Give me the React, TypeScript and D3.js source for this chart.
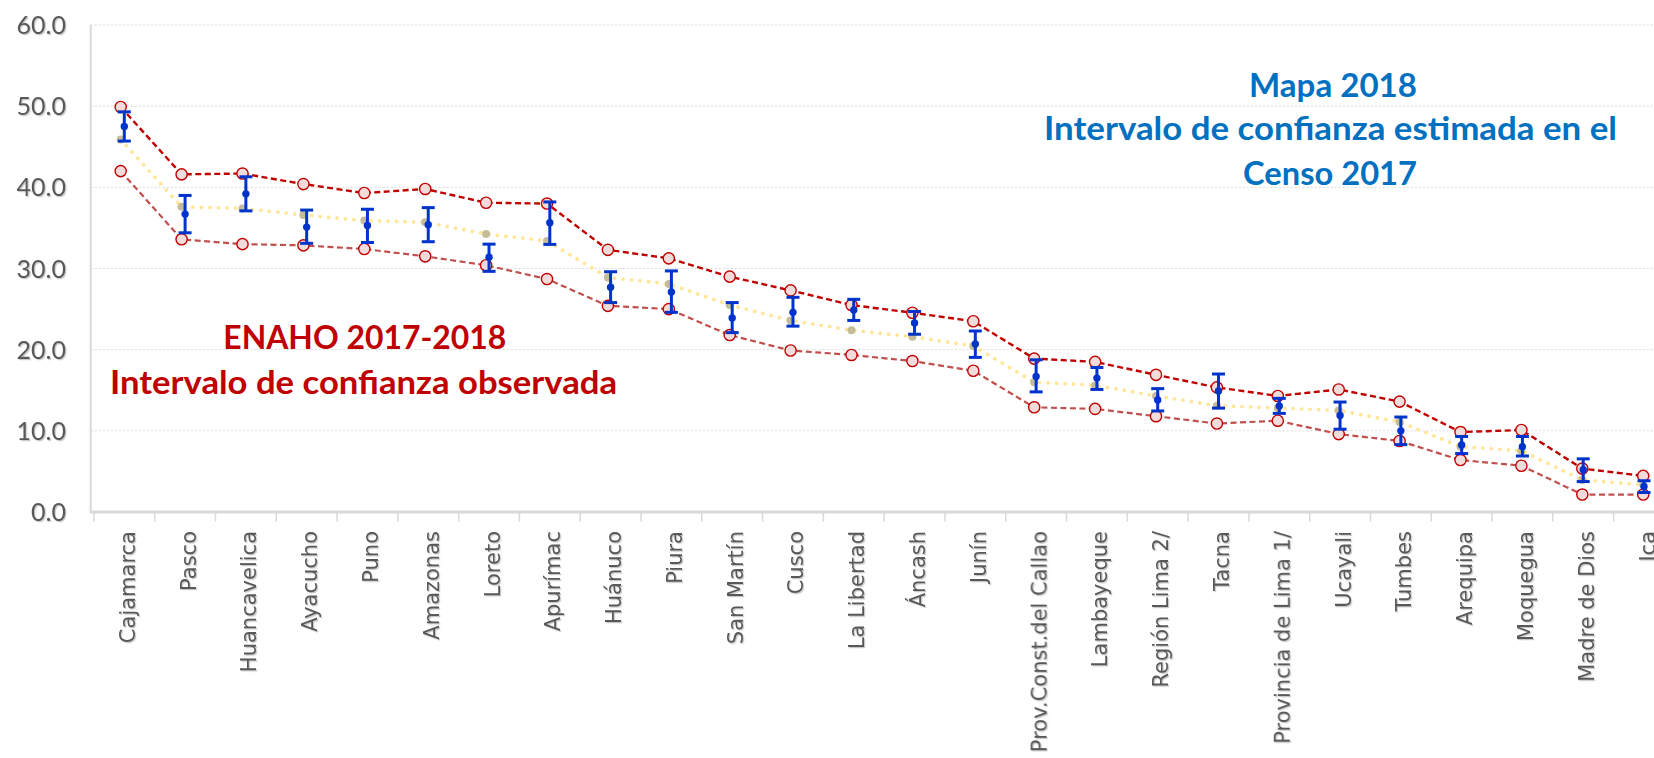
import React from 'react';
import * as d3 from 'd3';

const categories = [
  'Cajamarca', 'Pasco', 'Huancavelica', 'Ayacucho', 'Puno', 'Amazonas', 'Loreto', 'Apurímac',
  'Huánuco', 'Piura', 'San Martín', 'Cusco', 'La Libertad', 'Áncash', 'Junín',
  'Prov.Const.del Callao', 'Lambayeque', 'Región Lima 2/', 'Tacna', 'Provincia de Lima 1/',
  'Ucayali', 'Tumbes', 'Arequipa', 'Moquegua', 'Madre de Dios', 'Ica',
];

// ENAHO 2017-2018 observed confidence interval
const enahoUpper = [49.9, 41.6, 41.7, 40.4, 39.3, 39.8, 38.1, 38.0, 32.3, 31.25, 29.0, 27.3, 25.5, 24.55, 23.5, 18.9, 18.5, 16.9, 15.35, 14.3, 15.1, 13.6, 9.85, 10.1, 5.35, 4.45];
const enahoLower = [42.0, 33.6, 33.0, 32.85, 32.4, 31.5, 30.4, 28.7, 25.4, 25.0, 21.8, 19.9, 19.35, 18.6, 17.4, 12.9, 12.7, 11.8, 10.9, 11.25, 9.6, 8.75, 6.4, 5.7, 2.15, 2.15];
const enahoEstimate = [45.9, 37.6, 37.4, 36.6, 35.9, 35.7, 34.25, 33.4, 28.9, 28.1, 25.5, 23.6, 22.4, 21.6, 20.45, 16.0, 15.6, 14.3, 13.1, 12.8, 12.5, 11.1, 8.05, 7.55, 3.95, 3.35];

// Mapa 2018 - Censo 2017 estimated confidence interval
const censoEstimate = [47.5, 36.7, 39.2, 35.1, 35.3, 35.4, 31.4, 35.65, 27.7, 27.1, 23.9, 24.6, 24.9, 23.3, 20.7, 16.7, 16.5, 13.8, 14.9, 13.06, 11.9, 10.0, 8.25, 8.05, 5.2, 3.15];
const censoUpper = [49.3, 39.0, 41.3, 37.2, 37.3, 37.5, 33.0, 38.2, 29.6, 29.7, 25.8, 26.45, 26.2, 24.7, 22.3, 18.75, 17.8, 15.2, 17.0, 14.0, 13.55, 11.7, 9.3, 9.3, 6.55, 3.85];
const censoLower = [45.7, 34.4, 37.1, 33.1, 33.2, 33.3, 29.65, 32.97, 25.8, 24.6, 22.1, 22.9, 23.6, 21.9, 19.05, 14.8, 15.1, 12.45, 12.8, 12.15, 10.2, 8.3, 7.2, 6.9, 3.75, 2.4];

const yTicks = [0, 10, 20, 30, 40, 50, 60];

const enahoTitle = ['ENAHO 2017-2018', 'Intervalo de confianza observada'];
const censoTitle = ['Mapa 2018', 'Intervalo de confianza estimada en el', 'Censo 2017'];

const W = 1654;
const H = 758;

export default function App() {
  const y = d3.scaleLinear().domain([0, 60]).range([512, 25]);
  const xMain = d3.scaleBand<string>().domain(categories).range([90.25, 1673.65]).padding(0);
  const xSec = d3.scaleBand<string>().domain(categories).range([93.9, 1674.4]).padding(0);
  const cm = (i: number) => (xMain(categories[i]) as number) + xMain.bandwidth() / 2;
  const cs = (i: number) => (xSec(categories[i]) as number) + xSec.bandwidth() / 2;

  const lineMain = d3.line<number>().x((_, i) => cm(i)).y((d) => y(d));

  const plotLeft = 90.7;
  const plotRight = W + 30;
  const labelFont = '"DejaVu Sans", Verdana, sans-serif';
  const calFont = 'Lato, "Open Sans", sans-serif';

  const boundaries = d3.range(categories.length + 1).map((k) => (xSec.range()[0] as number) + k * xSec.bandwidth());

  return (
    <svg width={W} height={H} style={{ position: 'absolute', left: 0, top: 0, background: '#fff' }}>
      <defs>
        <filter id="shadow" x="-10%" y="-10%" width="130%" height="130%">
          <feDropShadow dx="1.2" dy="1.2" stdDeviation="0.6" floodColor="#9a9a9a" floodOpacity="0.55" />
        </filter>
      </defs>
      <rect x={0} y={0} width={W} height={H} fill="#fff" />

      {/* gridlines */}
      {yTicks.filter((t) => t > 0).map((t) => (
        <line key={t} x1={plotLeft} x2={plotRight} y1={y(t)} y2={y(t)} stroke="#D9D9D9" strokeWidth={1} strokeDasharray="2 2" />
      ))}

      {/* axes */}
      <line x1={plotLeft} x2={plotLeft} y1={y(60)} y2={y(0)} stroke="#D9D9D9" strokeWidth={2} />
      <line x1={plotLeft - 1} x2={plotRight} y1={y(0)} y2={y(0)} stroke="#D9D9D9" strokeWidth={3} />
      {boundaries.map((b, k) => (
        <line key={k} x1={b} x2={b} y1={y(0) + 1} y2={y(0) + 9.5} stroke="#D9D9D9" strokeWidth={1.5} />
      ))}

      {/* y labels */}
      <g filter="url(#shadow)">
        {yTicks.map((t) => (
          <text key={t} x={66} y={y(t)} dy="0.36em" textAnchor="end" fontFamily={calFont} fontSize={25} fill="#595959">
            {t.toFixed(1)}
          </text>
        ))}
      </g>

      {/* x labels */}
      <g filter="url(#shadow)">
        {categories.map((c, i) => (
          <text key={c} transform={`translate(${cs(i) + 10.5},531) rotate(-90)`} textAnchor="end" fontFamily={labelFont} fontSize={21} fill="#595959">
            {c}
          </text>
        ))}
      </g>

      {/* ENAHO estimate dotted yellow line */}
      <path d={lineMain(enahoEstimate) as string} fill="none" stroke="#FFE699" strokeWidth={3.8} strokeLinecap="round" strokeDasharray="0.01 8.5" />
      {enahoEstimate.map((v, i) => (
        <circle key={i} cx={cm(i)} cy={y(v)} r={4} fill="#C4BD97" />
      ))}

      {/* ENAHO interval lines */}
      <path d={lineMain(enahoLower) as string} fill="none" stroke="#C0504D" strokeWidth={2.2} strokeDasharray="6 3.5" />
      <path d={lineMain(enahoUpper) as string} fill="none" stroke="#C00000" strokeWidth={2.4} strokeDasharray="6 3.5" />
      {enahoLower.map((v, i) => (
        <circle key={'l' + i} cx={cm(i)} cy={y(v)} r={5.6} fill="#F2DCDB" stroke="#C00000" strokeWidth={1.4} />
      ))}
      {enahoUpper.map((v, i) => (
        <circle key={'u' + i} cx={cm(i)} cy={y(v)} r={5.6} fill="#F2DCDB" stroke="#C00000" strokeWidth={1.4} />
      ))}

      {/* Censo error bars */}
      {censoEstimate.map((v, i) => {
        const x0 = cs(i);
        return (
          <g key={'c' + i} stroke="#0033CC" strokeWidth={3}>
            <line x1={x0} x2={x0} y1={y(censoUpper[i])} y2={y(censoLower[i])} />
            <line x1={x0 - 6.5} x2={x0 + 6.5} y1={y(censoUpper[i])} y2={y(censoUpper[i])} />
            <line x1={x0 - 6.5} x2={x0 + 6.5} y1={y(censoLower[i])} y2={y(censoLower[i])} />
            <circle cx={x0} cy={y(v)} r={3.7} fill="#0033CC" stroke="none" />
          </g>
        );
      })}

      {/* annotations */}
      <text x={364.8} y={349.3} textAnchor="middle" fontFamily={calFont} fontWeight="bold" fontSize={32.5} fill="#C00000" textLength={283} lengthAdjust="spacingAndGlyphs">
        {enahoTitle[0]}
      </text>
      <text x={363.5} y={394} textAnchor="middle" fontFamily={calFont} fontWeight="bold" fontSize={32.5} fill="#C00000" textLength={507} lengthAdjust="spacingAndGlyphs">
        {enahoTitle[1]}
      </text>
      <text x={1333} y={96.7} textAnchor="middle" fontFamily={calFont} fontWeight="bold" fontSize={32.5} fill="#0070C0" textLength={168} lengthAdjust="spacingAndGlyphs">
        {censoTitle[0]}
      </text>
      <text x={1330.5} y={140} textAnchor="middle" fontFamily={calFont} fontWeight="bold" fontSize={32.5} fill="#0070C0" textLength={573} lengthAdjust="spacingAndGlyphs">
        {censoTitle[1]}
      </text>
      <text x={1330} y={185} textAnchor="middle" fontFamily={calFont} fontWeight="bold" fontSize={32.5} fill="#0070C0" textLength={174} lengthAdjust="spacingAndGlyphs">
        {censoTitle[2]}
      </text>
    </svg>
  );
}
